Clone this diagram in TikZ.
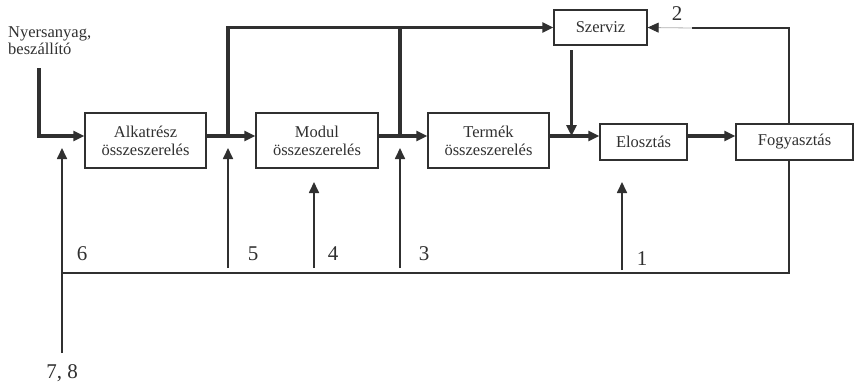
\documentclass[tikz,border=0pt]{standalone}
\usepackage{fontspec}
\setmainfont{Liberation Serif}
\usetikzlibrary{arrows.meta}
\definecolor{ink}{RGB}{48,48,48}
\definecolor{faint}{RGB}{175,175,175}
\tikzset{
  stage/.style={draw=ink, line width=1.3pt, rectangle, inner sep=0pt, align=center,
    text=ink, font=\fontsize{16.5}{18}\selectfont},
  flow/.style={draw=ink, line width=3.3pt, -{Triangle[length=11pt,width=10pt]}},
  flowline/.style={draw=ink, line width=3.3pt},
  fb/.style={draw=ink, line width=1.7pt},
  fbarrow/.style={draw=ink, line width=1.7pt, -{Triangle[length=11pt,width=10pt]}},
  num/.style={text=ink, font=\fontsize{21}{23}\selectfont, inner sep=0pt},
}
\begin{document}
\begin{tikzpicture}[x=1pt,y=-1pt]
\useasboundingbox (0,0) rectangle (855,386);

% process stages
\node[stage, minimum width=121pt, minimum height=55pt] (alk) at (145.5,140.5) {Alkatrész\\összeszerelés};
\node[stage, minimum width=122pt, minimum height=55pt] (mod) at (317,140.5) {Modul\\összeszerelés};
\node[stage, minimum width=121pt, minimum height=55pt] (ter) at (488.5,140.5) {Termék\\összeszerelés};
\node[stage, minimum width=93pt, minimum height=35pt] (szv) at (600.5,27.5) {Szerviz};
\node[stage, minimum width=87pt, minimum height=36pt] (elo) at (643.5,142) {Elosztás};
\node[stage, minimum width=117pt, minimum height=36pt] (fog) at (794.5,142) {Fogyasztás};

\node[text=ink, font=\fontsize{16.5}{17}\selectfont, align=left, anchor=west, inner sep=0pt]
  (src) at (8,41) {Nyersanyag,\\beszállító};

% junction points
\coordinate (row) at (0,136);
\coordinate (nytop) at (39,68);
\coordinate (j5) at (228,136);
\coordinate (j3) at (400,136);
\coordinate (j3top) at (400,28);
\coordinate (svtop) at (571.5,50);
\coordinate (svbot) at (571.5,136);
\coordinate (ret2) at (692,28);
\coordinate (fbx) at (789,0);
\coordinate (base) at (62,273);
\coordinate (base78) at (62,353);

% main material flow
\draw[flow] (nytop) |- (alk.west |- row);
\draw[flow] (alk.east |- row) -- (mod.west |- row);
\draw[flow] (j5) |- (szv.west);
\draw[flowline] (j3top) -- (j3);
\draw[flow] (mod.east |- row) -- (ter.west |- row);
\draw[flow] (ter.east |- row) -- (elo.west |- row);
\draw[flow] (svtop) -- (svbot);
\draw[flow] (elo.east |- row) -- (fog.west |- row);

% return flows
\draw[fb] (fog.north -| fbx) |- (ret2);
\draw[draw=faint, line width=0.8pt, -{Triangle[length=11pt,width=10pt,color=ink]}] (ret2) -- (szv.east);
\draw[fb] (fog.south -| fbx) |- (base);
\draw[fbarrow] (base78) -- (62,148);
\draw[fbarrow] (228,268) -- (228,148);
\draw[fbarrow] (314,268) -- (314,182);
\draw[fbarrow] (400,268) -- (400,148);
\draw[fbarrow] (622,270) -- (622,182);

% numbered return paths
\node[num] (n6) at (82,254) {6};
\node[num] (n5) at (253,254) {5};
\node[num] (n4) at (333,254) {4};
\node[num] (n3) at (424,254) {3};
\node[num] (n1) at (642,259) {1};
\node[num] (n2) at (677,14) {2};
\node[num] (n78) at (62,373) {7, 8};
\end{tikzpicture}
\end{document}
